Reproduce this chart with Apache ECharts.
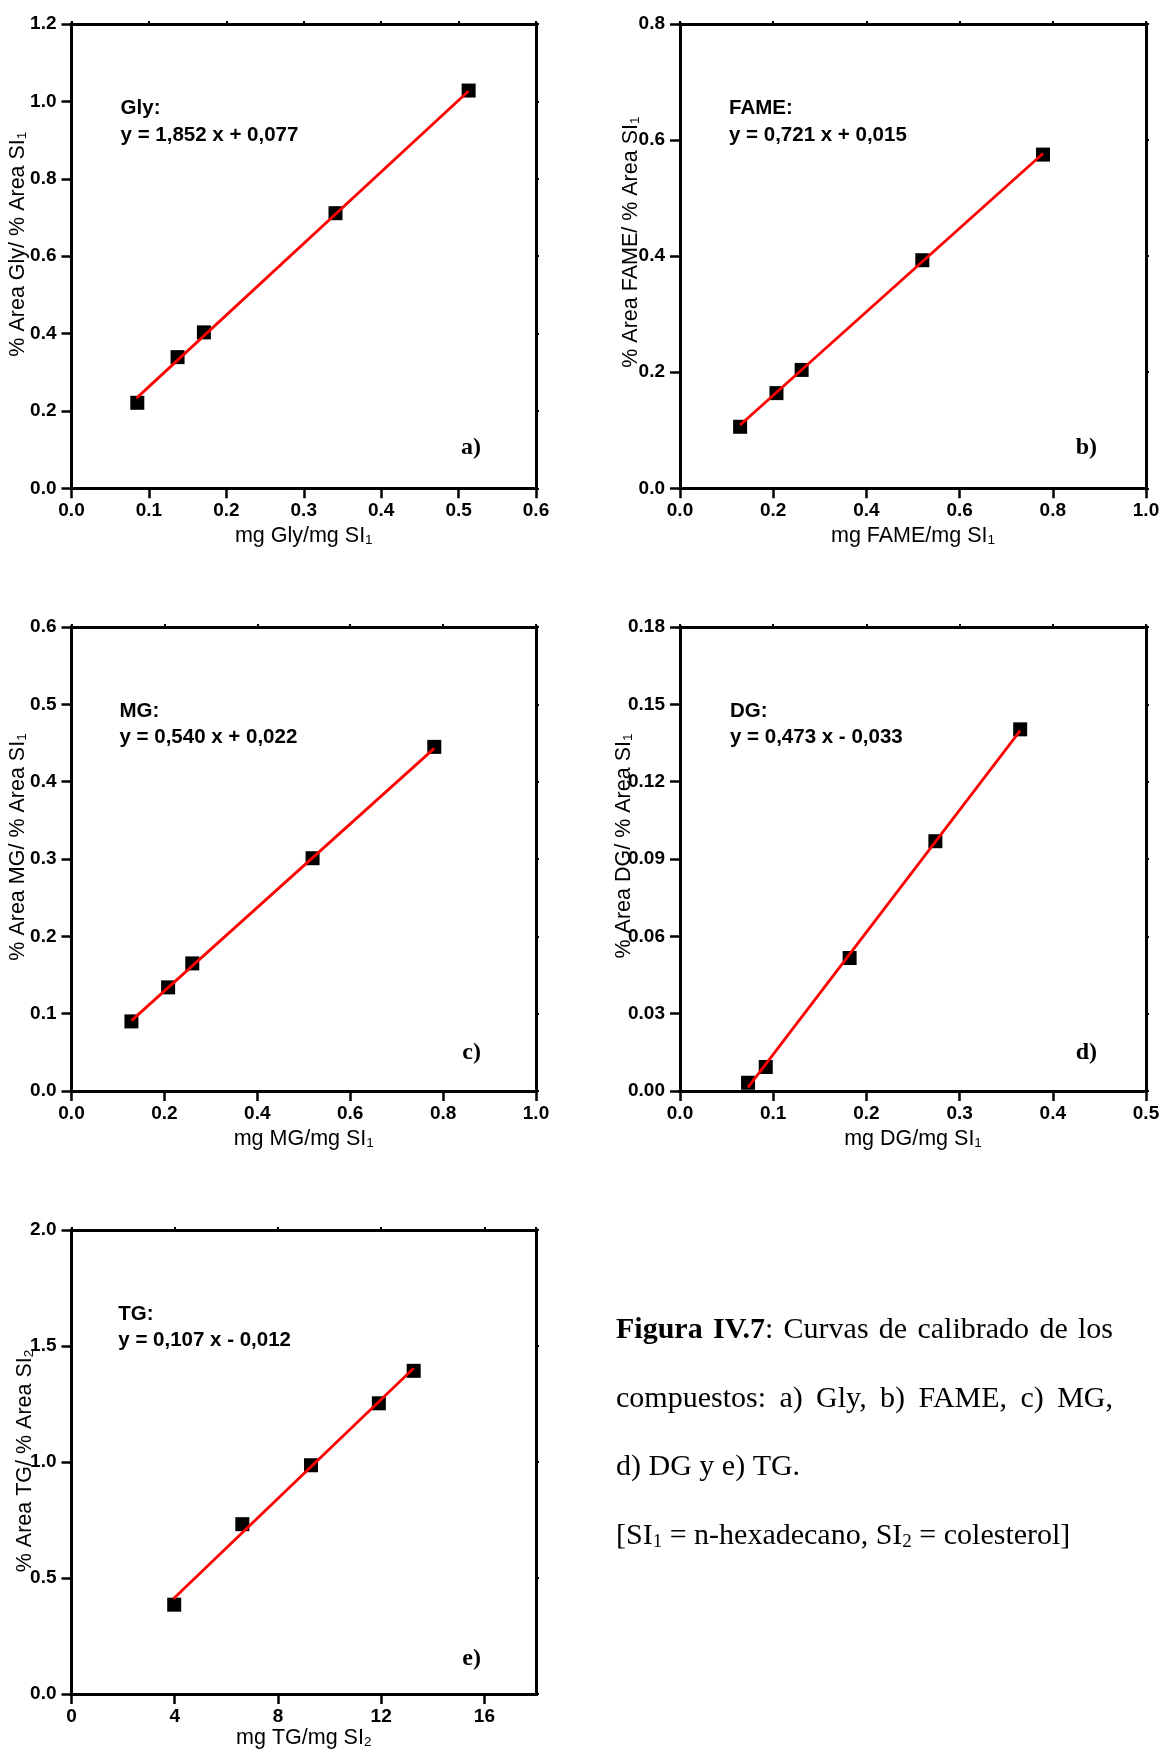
<!DOCTYPE html>
<html><head><meta charset="utf-8">
<script src="https://cdn.jsdelivr.net/npm/echarts@6/dist/echarts.min.js"></script>
<style>html,body{margin:0;padding:0;background:#fff}#c{width:1161px;height:1750px}</style>
</head><body><div id="c"></div>
<script>
// ---------- DATA ----------
// a) Gly
const glyX = [0.085, 0.137, 0.171, 0.341, 0.513];
const glyY = [0.221, 0.339, 0.403, 0.711, 1.028];
const glyFitX = [0.084, 0.513];
const glyFitY = [0.233, 1.027];
const glyXTicks = ['0.0','0.1','0.2','0.3','0.4','0.5','0.6'];
const glyYTicks = ['0.0','0.2','0.4','0.6','0.8','1.0','1.2'];
// b) FAME
const fameX = [0.129, 0.207, 0.261, 0.520, 0.779];
const fameY = [0.106, 0.164, 0.204, 0.393, 0.575];
const fameFitX = [0.129, 0.779];
const fameFitY = [0.109, 0.577];
const fameXTicks = ['0.0','0.2','0.4','0.6','0.8','1.0'];
const fameYTicks = ['0.0','0.2','0.4','0.6','0.8'];
// c) MG
const mgX = [0.129, 0.208, 0.260, 0.519, 0.781];
const mgY = [0.090, 0.134, 0.165, 0.301, 0.445];
const mgFitX = [0.129, 0.781];
const mgFitY = [0.091, 0.443];
const mgXTicks = ['0.0','0.2','0.4','0.6','0.8','1.0'];
const mgYTicks = ['0.0','0.1','0.2','0.3','0.4','0.5','0.6'];
// d) DG
const dgX = [0.073, 0.092, 0.182, 0.274, 0.365];
const dgY = [0.0032, 0.0093, 0.0516, 0.0969, 0.1403];
const dgFitX = [0.073, 0.365];
const dgFitY = [0.0014, 0.1398];
const dgXTicks = ['0.0','0.1','0.2','0.3','0.4','0.5'];
const dgYTicks = ['0.00','0.03','0.06','0.09','0.12','0.15','0.18'];
// e) TG
const tgX = [3.98, 6.62, 9.28, 11.91, 13.26];
const tgY = [0.385, 0.732, 0.986, 1.253, 1.393];
const tgFitX = [3.95, 13.26];
const tgFitY = [0.411, 1.404];
const tgXTicks = ['0','4','8','12','16'];
const tgXMax = 18;
const tgYTicks = ['0.0','0.5','1.0','1.5','2.0'];

// texts
const xNames = ['mg Gly/mg SI|1','mg FAME/mg SI|1','mg MG/mg SI|1','mg DG/mg SI|1','mg TG/mg SI|2'];
const yNames = ['% Area Gly/ % Area SI|1','% Area FAME/ % Area SI|1','% Area MG/ % Area SI|1','% Area DG/ % Area SI|1','% Area TG/ % Area SI|2'];
const annTitles = ['Gly:','FAME:','MG:','DG:','TG:'];
const annEqs = ['y = 1,852 x + 0,077','y = 0,721 x + 0,015','y = 0,540 x + 0,022','y = 0,473 x - 0,033','y = 0,107 x - 0,012'];
const panelLabels = ['a)','b)','c)','d)','e)'];

// ---------- LAYOUT ----------
const SANS = '"Liberation Sans", Arial, sans-serif';
const SERIF = '"Liberation Serif", "Times New Roman", serif';
const layouts = [
  {left:71.5, top:24,   w:464.5, h:464.3, yGap:42, yPad:24, xGap:37, ax:120.6, ay:108.5, lx:481,   ly:447.6},
  {left:680,  top:24,   w:466,   h:464.3, yGap:38, yPad:28, xGap:37, ax:729,   ay:108.5, lx:1097,  ly:447.6},
  {left:71.5, top:627,  w:464.5, h:464,   yGap:42, yPad:24, xGap:37, ax:119.5, ay:711,   lx:481,   ly:1052.7},
  {left:680,  top:627,  w:466,   h:464,   yGap:45, yPad:26, xGap:37, ax:730,   ay:711,   lx:1097,  ly:1052.7},
  {left:71.5, top:1230, w:464.5, h:464,   yGap:35, yPad:2,  xGap:33, ax:118.3, ay:1314,  lx:481,   ly:1658.8}
];
const panels = [
  {x:glyX, y:glyY, fx:glyFitX, fy:glyFitY, xt:glyXTicks, yt:glyYTicks},
  {x:fameX, y:fameY, fx:fameFitX, fy:fameFitY, xt:fameXTicks, yt:fameYTicks},
  {x:mgX, y:mgY, fx:mgFitX, fy:mgFitY, xt:mgXTicks, yt:mgYTicks},
  {x:dgX, y:dgY, fx:dgFitX, fy:dgFitY, xt:dgXTicks, yt:dgYTicks},
  {x:tgX, y:tgY, fx:tgFitX, fy:tgFitY, xt:tgXTicks, yt:tgYTicks, xmax:tgXMax}
];

function richName(s){ const p = s.split('|'); return '{m|' + p[0] + '}{s|' + p[1] + '}'; }
const nameStyle = {
  color:'#000', fontFamily:SANS, fontSize:21.5,
  rich:{ m:{fontFamily:SANS, fontSize:21.5, color:'#000'}, s:{fontFamily:SANS, fontSize:13.5, color:'#000', lineHeight:12, verticalAlign:'bottom'} }
};
function axisFromTicks(ticks, maxOverride){
  const vals = ticks.map(Number);
  const min = vals[0], interval = vals[1]-vals[0];
  const max = maxOverride != null ? maxOverride : vals[vals.length-1];
  const fmt = v => { const i = Math.round((v-min)/interval); const ok = Math.abs(min + i*interval - v) < interval*1e-3; return (ok && ticks[i] !== undefined) ? ticks[i] : ''; };
  return {min, max, interval, fmt};
}
const lineS = {color:'#000', width:3, cap:'square'};
const grids = [], xAxes = [], yAxes = [], series = [], graphics = [];
panels.forEach((p, i) => {
  const L = layouts[i];
  grids.push({left:L.left, top:L.top, width:L.w, height:L.h, outerBoundsMode:'none', containLabel:false});
  const xa = axisFromTicks(p.xt, p.xmax), ya = axisFromTicks(p.yt);
  xAxes.push({type:'value', gridIndex:i, position:'bottom', min:xa.min, max:xa.max, interval:xa.interval,
    axisLine:{show:true, onZero:false, lineStyle:lineS},
    axisTick:{show:true, inside:false, length:10, lineStyle:{color:'#000', width:2.5}},
    axisLabel:{show:true, margin:13, color:'#000', fontFamily:SANS, fontWeight:'bold', fontSize:19, formatter:xa.fmt, showMaxLabel: p.xmax == null, hideOverlap:false},
    splitLine:{show:false}, name:richName(xNames[i]), nameLocation:'middle', nameGap:L.xGap, nameMoveOverlap:false, nameTextStyle:nameStyle});
  xAxes.push({type:'value', gridIndex:i, position:'top', min:xa.min, max:xa.max, interval:xa.interval,
    axisLine:{show:true, onZero:false, lineStyle:lineS},
    axisTick:{show:true, inside:false, length:3, lineStyle:{color:'#000', width:2}},
    axisLabel:{show:false}, splitLine:{show:false}});
  yAxes.push({type:'value', gridIndex:i, position:'left', min:ya.min, max:ya.max, interval:ya.interval,
    axisLine:{show:true, onZero:false, lineStyle:lineS},
    axisTick:{show:true, inside:false, length:10, lineStyle:{color:'#000', width:2.5}},
    axisLabel:{show:true, margin:15, color:'#000', fontFamily:SANS, fontWeight:'bold', fontSize:19, formatter:ya.fmt, hideOverlap:false},
    splitLine:{show:false}, name:richName(yNames[i]), nameLocation:'middle', nameGap:L.yGap, nameMoveOverlap:false,
    nameTextStyle:Object.assign({}, nameStyle, {padding:[0,0,0,L.yPad]})});
  yAxes.push({type:'value', gridIndex:i, position:'right', min:ya.min, max:ya.max, interval:ya.interval,
    axisLine:{show:true, onZero:false, lineStyle:lineS},
    axisTick:{show:true, inside:false, length:3, lineStyle:{color:'#000', width:2}},
    axisLabel:{show:false}, splitLine:{show:false}});
  series.push({type:'scatter', xAxisIndex:2*i, yAxisIndex:2*i, symbol:'rect', symbolSize:14,
    itemStyle:{color:'#000', opacity:1}, data:p.x.map((v,k)=>[v, p.y[k]]), z:2});
  series.push({type:'line', xAxisIndex:2*i, yAxisIndex:2*i, symbol:'none', showSymbol:false,
    lineStyle:{color:'#ff0000', width:2.8, opacity:1}, data:p.fx.map((v,k)=>[v, p.fy[k]]), z:3});
  graphics.push({type:'text', style:{text:annTitles[i], x:L.ax, y:L.ay, fill:'#000', font:'bold 20.5px ' + SANS, align:'left', textAlign:'left', verticalAlign:'middle', textVerticalAlign:'middle'}});
  graphics.push({type:'text', style:{text:annEqs[i], x:L.ax, y:L.ay+26.5, fill:'#000', font:'bold 20.5px ' + SANS, align:'left', textAlign:'left', verticalAlign:'middle', textVerticalAlign:'middle'}});
  graphics.push({type:'text', style:{text:panelLabels[i], x:L.lx, y:L.ly, fill:'#000', font:'bold 24px ' + SERIF, align:'right', textAlign:'right', verticalAlign:'middle', textVerticalAlign:'middle'}});
});

// ---------- CAPTION ----------
const capSize = 30, capLeft = 616, capRight = 1113;
const capYs = [1330, 1399, 1467.5, 1536.5];
const capRich = {
  b:{fontFamily:SERIF, fontSize:capSize, fontWeight:'bold', color:'#000'},
  r:{fontFamily:SERIF, fontSize:capSize, color:'#000'},
  s:{fontFamily:SERIF, fontSize:19, color:'#000', lineHeight:14, verticalAlign:'bottom'}
};
const mctx = document.createElement('canvas').getContext('2d');
function segW(seg){ mctx.font = (seg.b ? 'bold ' : '') + capSize + 'px ' + SERIF; return mctx.measureText(seg.t).width; }
function wordRich(segs){ return segs.map(s => '{' + (s.b ? 'b' : 'r') + '|' + s.t + '}').join(''); }
function justified(words, y){
  const widths = words.map(w => w.reduce((a,s)=>a+segW(s),0));
  const total = widths.reduce((a,b)=>a+b,0);
  const gap = (capRight - capLeft - total) / (words.length - 1);
  let x = capLeft;
  words.forEach((w, k) => {
    graphics.push({type:'text', style:{text:wordRich(w), rich:capRich, x:x, y:y, fill:'#000', font:capSize+'px '+SERIF, align:'left', textAlign:'left', verticalAlign:'middle', textVerticalAlign:'middle'}});
    x += widths[k] + gap;
  });
}
justified([[{t:'Figura',b:1}],[{t:'IV.7',b:1},{t:':'}],[{t:'Curvas'}],[{t:'de'}],[{t:'calibrado'}],[{t:'de'}],[{t:'los'}]], capYs[0]);
justified([[{t:'compuestos:'}],[{t:'a)'}],[{t:'Gly,'}],[{t:'b)'}],[{t:'FAME,'}],[{t:'c)'}],[{t:'MG,'}]], capYs[1]);
graphics.push({type:'text', style:{text:'{r|d) DG y e) TG.}', rich:capRich, x:capLeft, y:capYs[2], fill:'#000', font:capSize+'px '+SERIF, align:'left', textAlign:'left', verticalAlign:'middle', textVerticalAlign:'middle'}});
graphics.push({type:'text', style:{text:'{r|[SI}{s|1}{r| = n-hexadecano, SI}{s|2}{r| = colesterol]}', rich:capRich, x:capLeft, y:capYs[3], fill:'#000', font:capSize+'px '+SERIF, align:'left', textAlign:'left', verticalAlign:'middle', textVerticalAlign:'middle'}});

const chart = echarts.init(document.getElementById('c'), null, {renderer:'canvas', width:1161, height:1750});
chart.setOption({
  backgroundColor:'#fff', animation:false,
  grid:grids, xAxis:xAxes, yAxis:yAxes, series:series, graphic:graphics
});
</script></body></html>
